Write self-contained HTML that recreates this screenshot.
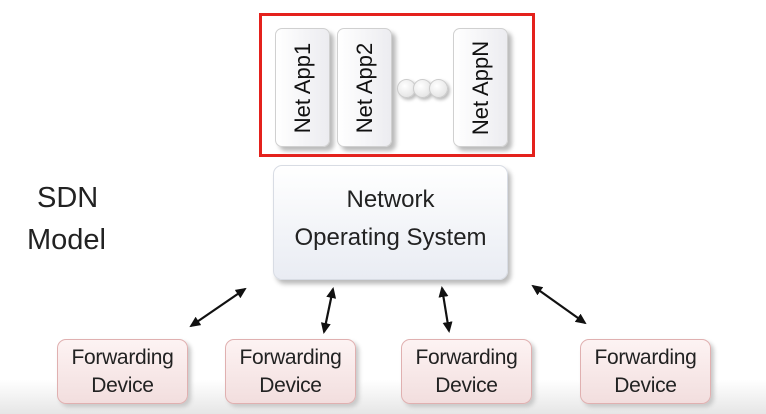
<!DOCTYPE html>
<html><head><style>
body{margin:0;width:766px;height:414px;overflow:hidden;background:linear-gradient(#fff 0,#fff 380px,#e6e6e6 414px);font-family:"Liberation Sans","DejaVu Sans",sans-serif;position:relative}
.a{position:absolute}
.app{position:absolute;top:28px;width:53px;height:117px;border:1px solid #d0d0d0;border-radius:7px;background:linear-gradient(90deg,#fff,#ececf0);box-shadow:4px 4px 4px #bbb}
.app span{position:absolute;left:50%;top:50%;transform:translate(-50%,-50%) rotate(-90deg);white-space:nowrap;font-size:22px;color:#111}
.fd{position:absolute;top:339px;width:131px;height:65px;border:1px solid #e0b0b0;border-radius:9px;background:linear-gradient(#fdf3f3,#f2dede);box-shadow:3px 3px 4px #c8c8c8;text-align:center;font-size:21px;line-height:28px;color:#222;padding-top:4px;box-sizing:border-box;letter-spacing:-0.3px}
.dot{position:absolute;top:79px;width:17px;height:17px;border-radius:50%;background:radial-gradient(circle at 40% 35%,#fff,#ddd);border:1px solid #ccc;box-shadow:2px 2px 3px #bbb}
</style></head><body>
<div class="a" style="left:259px;top:13px;width:270px;height:138px;border:3px solid #e4211c"></div>
<div class="app" style="left:275px"><span>Net App1</span></div>
<div class="app" style="left:337px"><span>Net App2</span></div>
<div class="app" style="left:453px"><span>Net AppN</span></div>
<div class="dot" style="left:397px"></div><div class="dot" style="left:413px"></div><div class="dot" style="left:429px"></div>
<div class="a" style="left:273px;top:165px;width:235px;height:115px;border:1px solid #d8dce4;border-radius:9px;background:linear-gradient(#fff,#e9ecf3);box-shadow:3px 4px 5px #bbb;text-align:center;font-size:24px;line-height:38px;color:#222;box-sizing:border-box;padding-top:15px">Network<br>Operating System</div>
<div class="a" style="left:37px;top:182px;font-size:29px;color:#222">SDN</div>
<div class="a" style="left:27px;top:224px;font-size:29px;color:#222">Model</div>
<div class="fd" style="left:57px">Forwarding<br>Device</div>
<div class="fd" style="left:225px">Forwarding<br>Device</div>
<div class="fd" style="left:401px">Forwarding<br>Device</div>
<div class="fd" style="left:580px">Forwarding<br>Device</div>
<svg class="a" style="left:0;top:0" width="766" height="414">
<defs><marker id="m" markerWidth="11" markerHeight="10" refX="9" refY="5" orient="auto-start-reverse" markerUnits="userSpaceOnUse"><path d="M0,0 L11,5 L0,10 z" fill="#111"/></marker></defs>
<g stroke="#111" stroke-width="2.2" marker-start="url(#m)" marker-end="url(#m)">
<line x1="191" y1="326" x2="245" y2="289"/>
<line x1="324" y1="332" x2="333" y2="289"/>
<line x1="442" y1="288" x2="449" y2="331"/>
<line x1="533" y1="286" x2="585" y2="323"/>
</g></svg>
</body></html>
